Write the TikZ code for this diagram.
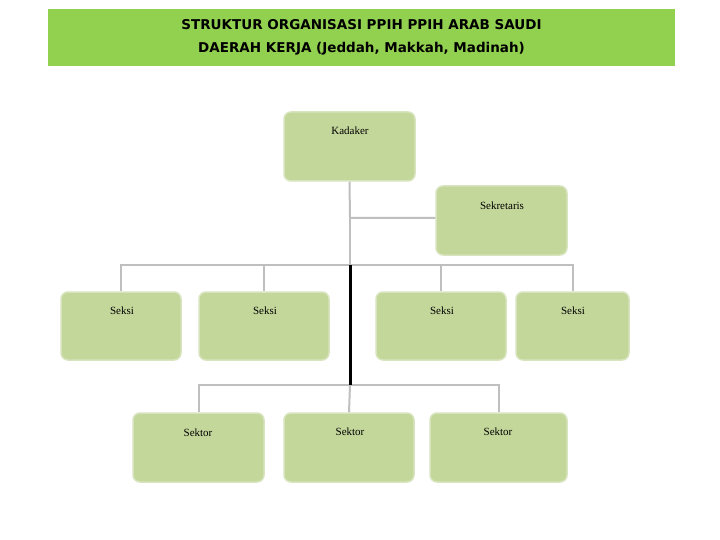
\documentclass[tikz,border=0pt]{standalone}
\usepackage{fontspec}
\setmainfont{Liberation Serif}
\newfontfamily\titlefont{DejaVu Sans}
\definecolor{boxfill}{HTML}{C4D79B}
\definecolor{boxline}{HTML}{D7E4BD}
\definecolor{banner}{HTML}{92D050}
\definecolor{conn}{HTML}{BFBFBF}
\begin{document}
\begin{tikzpicture}[x=1pt,y=-1pt,
  orgbox/.style={draw=boxline,line width=1.5pt,fill=boxfill,rounded corners=7pt,inner sep=0pt},
  lbl/.style={font=\fontsize{11}{13}\selectfont,inner sep=0pt},
  link/.style={draw=conn,line width=2pt}]
\useasboundingbox (0,0) rectangle (720,540);
\fill[white] (0,0) rectangle (720,540);
\node[fill=banner,minimum width=627pt,minimum height=57pt,inner sep=0pt,align=center,
  font=\titlefont\bfseries\fontsize{13.5}{23}\selectfont] (title) at (361.5,37.5)
  {STRUKTUR  ORGANISASI PPIH PPIH ARAB SAUDI\\DAERAH KERJA (Jeddah, Makkah, Madinah)};
% boxes
\node[orgbox,minimum width=131pt,minimum height=69pt] (kad) at (349.5,146.5) {};
\node[orgbox,minimum width=131pt,minimum height=69pt] (sek) at (501.5,220.5) {};
\node[orgbox,minimum width=120pt,minimum height=68pt] (s1) at (121,326) {};
\node[orgbox,minimum width=130pt,minimum height=68pt] (s2) at (264,326) {};
\node[orgbox,minimum width=130pt,minimum height=68pt] (s3) at (441,326) {};
\node[orgbox,minimum width=113pt,minimum height=68pt] (s4) at (572.5,326) {};
\node[orgbox,minimum width=131pt,minimum height=69pt] (t1) at (198.5,447.5) {};
\node[orgbox,minimum width=130pt,minimum height=69pt] (t2) at (349,447.5) {};
\node[orgbox,minimum width=137pt,minimum height=69pt] (t3) at (498.5,447.5) {};
% labels
\node[lbl] (lkad) at (350,131) {Kadaker};
\node[lbl] (lsek) at (502,206) {Sekretaris};
\node[lbl] (ls1) at (122,311) {Seksi};
\node[lbl] (ls2) at (265,311) {Seksi};
\node[lbl] (ls3) at (442,311) {Seksi};
\node[lbl] (ls4) at (573,311) {Seksi};
\node[lbl] (lt1) at (198,433) {Sektor};
\node[lbl] (lt2) at (350,432) {Sektor};
\node[lbl] (lt3) at (498,432) {Sektor};
% connectors
\coordinate (j1) at (350,218);
\coordinate (j2) at (350,265);
\coordinate (j3) at (350,385);
\draw[link] (kad.south) -- (j1) -- (sek.west |- j1);
\draw[link] (j1) -- (j2);
\draw[link] (s1.north) -- (s1.north |- j2) -- (s4.north |- j2) -- (s4.north);
\draw[link] (s2.north |- j2) -- (s2.north);
\draw[link] (s3.north |- j2) -- (s3.north);
\draw[link] (t1.north) -- (t1.north |- j3) -- (t3.north |- j3) -- (t3.north);
\draw[link] (j3) -- (t2.north);
\draw[line width=3pt,black] (j2) -- (j3);
\end{tikzpicture}
\end{document}
